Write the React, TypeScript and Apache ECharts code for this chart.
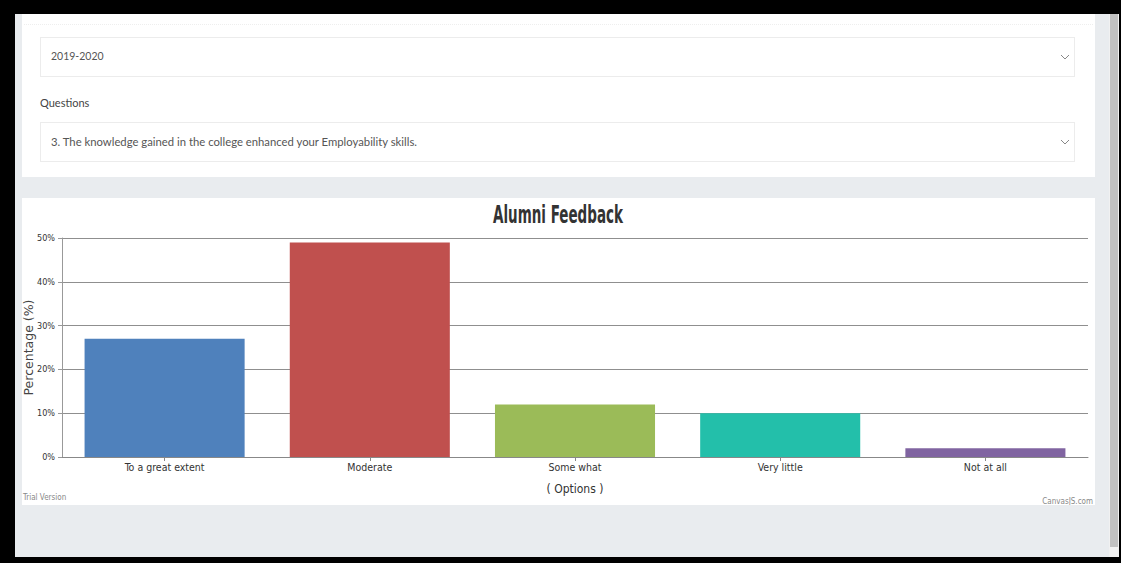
import React, { useEffect, useRef } from "react";
import * as echarts from "echarts";

const categories = ["To a great extent", "Moderate", "Some what", "Very little", "Not at all"];
const values = [27, 49, 12, 10, 2];
const barColors = ["#4F81BC", "#C0504E", "#9BBB58", "#23BFAA", "#8064A1"];
const yTicks = { min: 0, max: 50, interval: 10 };

const uiFont = "Lato, 'Noto Sans', sans-serif";
const narrow = "'DejaVu Sans Condensed', sans-serif";

function Chevron({ x, y }: { x: number; y: number }) {
  return (
    <svg style={{ position: "absolute", left: x, top: y }} width={10} height={7}>
      <polyline points="1,1 5,5 9,1" fill="none" stroke="#888" strokeWidth={1} />
    </svg>
  );
}

function Chart() {
  const ref = useRef<HTMLDivElement>(null);
  useEffect(() => {
    if (!ref.current) return;
    const chart = echarts.init(ref.current, undefined, { renderer: "svg" });
    chart.setOption({
      animation: false,
      grid: { left: 40, right: 7, top: 40, bottom: 48, containLabel: false, outerBoundsMode: "none" },
      xAxis: {
        type: "category",
        data: categories,
        name: "( Options )",
        nameLocation: "middle",
        nameGap: 26,
        nameMoveOverlap: false,
        nameTextStyle: { fontFamily: narrow, fontSize: 12, color: "#333" },
        axisLine: { show: true, lineStyle: { color: "#888", width: 1 } },
        axisTick: { show: true, alignWithLabel: true, length: 4, lineStyle: { color: "#888" } },
        axisLabel: { fontFamily: narrow, fontSize: 10.5, color: "#333", margin: 4 },
      },
      yAxis: {
        type: "value",
        min: yTicks.min,
        max: yTicks.max,
        interval: yTicks.interval,
        name: "Percentage (%)",
        nameLocation: "middle",
        nameGap: 27,
        nameMoveOverlap: false,
        nameTextStyle: { fontFamily: "'DejaVu Sans', sans-serif", fontSize: 12.5, color: "#444" },
        axisLine: { show: true, lineStyle: { color: "#999", width: 1 } },
        axisTick: { show: true, length: 4, lineStyle: { color: "#999" } },
        axisLabel: { formatter: "{value}%", fontFamily: narrow, fontSize: 9, color: "#333", margin: 7 },
        splitLine: { show: true, lineStyle: { color: "#8f8f8f", width: 1 } },
      },
      series: [
        {
          type: "bar",
          barWidth: "78%",
          data: values.map((v, i) => ({ value: v, itemStyle: { color: barColors[i] } })),
        },
      ],
      graphic: [
        {
          type: "text",
          x: 536,
          y: 17,
          scaleX: 0.6,
          style: {
            text: "Alumni Feedback",
            fontFamily: narrow,
            fontWeight: "bold",
            fontSize: 25,
            fill: "#333",
            textAlign: "center",
            textVerticalAlign: "middle",
          },
        },
        {
          type: "text",
          x: 1,
          y: 299,
          style: { text: "Trial Version", fontFamily: narrow, fontSize: 8, fill: "#888", textVerticalAlign: "middle" },
        },
        {
          type: "text",
          x: 1071,
          y: 303,
          style: {
            text: "CanvasJS.com",
            fontFamily: narrow,
            fontSize: 8,
            fill: "#888",
            textAlign: "right",
            textVerticalAlign: "middle",
          },
        },
      ],
    });
    return () => chart.dispose();
  }, []);
  return <div ref={ref} style={{ width: 1073, height: 307 }} />;
}

export default function App() {
  return (
    <div
      style={{
        position: "fixed",
        left: 0,
        top: 0,
        width: 1121,
        height: 563,
        background: "#000",
        overflow: "hidden",
      }}
    >
      <div
        style={{
          position: "absolute",
          left: 15,
          top: 14,
          width: 1104,
          height: 543,
          background: "#e9ecef",
        }}
      />
      {/* scrollbar */}
      <div style={{ position: "absolute", left: 1109, top: 14, width: 10, height: 543, background: "#f1f1f1" }} />
      <div style={{ position: "absolute", left: 1110, top: 14, width: 8, height: 533, background: "#c1c1c1" }} />
      {/* top card */}
      <div style={{ position: "absolute", left: 22, top: 14, width: 1073, height: 163, background: "#fff" }}>
        <div style={{ position: "absolute", left: 2, top: 10, width: 1069, borderTop: "1px dotted #eee" }} />
        <div
          style={{
            position: "absolute",
            left: 18,
            top: 23,
            width: 1035,
            height: 40,
            border: "1px solid #ececec",
            boxSizing: "border-box",
          }}
        >
          <div style={{ position: "absolute", left: 10, top: 12, fontFamily: uiFont, fontSize: 10.5, color: "#555" }}>
            2019-2020
          </div>
          <Chevron x={1019} y={16} />
        </div>
        <div style={{ position: "absolute", left: 18, top: 82, fontFamily: uiFont, fontSize: 11, color: "#444" }}>
          Questions
        </div>
        <div
          style={{
            position: "absolute",
            left: 18,
            top: 108,
            width: 1035,
            height: 40,
            border: "1px solid #ececec",
            boxSizing: "border-box",
          }}
        >
          <div style={{ position: "absolute", left: 10, top: 12, fontFamily: uiFont, fontSize: 11.3, color: "#555" }}>
            3. The knowledge gained in the college enhanced your Employability skills.
          </div>
          <Chevron x={1019} y={16} />
        </div>
      </div>
      {/* chart card */}
      <div style={{ position: "absolute", left: 22, top: 198, width: 1073, height: 307, background: "#fff" }}>
        <Chart />
      </div>
    </div>
  );
}
